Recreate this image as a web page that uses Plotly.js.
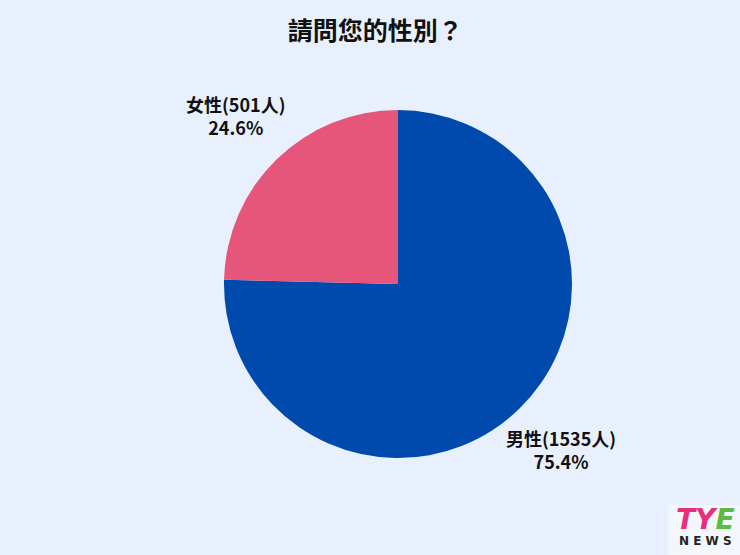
<!DOCTYPE html>
<html><head><meta charset="utf-8">
<script src="https://cdn.plot.ly/plotly-3.0.1.min.js"></script>
<style>html,body{margin:0;padding:0;background:#E8F0FD;}</style>
</head><body>
<div id="chart" style="width:740px;height:555px;"></div>
<script>
const categories = ['男性', '女性'];
const counts = [1535, 501];
const percents = ['75.4%', '24.6%'];
const colors = ['#004AAD', '#E6567A'];
const labelsText = categories.map((c, i) => '<b>' + c + '(' + counts[i] + '人)<br>' + percents[i] + '</b>');
const labelPos = [[0.968, 0.025], [0.034, 0.985]];

const font = "'Noto Sans CJK TC', 'Noto Sans', sans-serif";
const ann = labelsText.map((t, i) => ({
  xref: 'paper', yref: 'paper', x: labelPos[i][0], y: labelPos[i][1],
  xanchor: 'center', yanchor: 'middle', showarrow: false, text: t,
  font: {family: font, size: 18, color: '#111111'}
}));
ann.push(
  {xref: 'paper', yref: 'paper', x: 1.385, y: -0.178, xanchor: 'center', yanchor: 'middle', showarrow: false,
   text: '<b><i><span style="color:#E8307A">TY</span><span style="color:#5DBB3F">E</span></i></b>',
   font: {family: "'DejaVu Sans', sans-serif", size: 28}},
  {xref: 'paper', yref: 'paper', x: 1.385, y: -0.238, xanchor: 'center', yanchor: 'middle', showarrow: false,
   text: '<b>N E W S</b>', font: {family: "'DejaVu Sans', sans-serif", size: 12, color: '#222222'}}
);

Plotly.newPlot('chart', [{
  type: 'pie',
  labels: categories,
  values: counts,
  textinfo: 'none',
  sort: false,
  direction: 'clockwise',
  rotation: 0,
  marker: {colors: colors, line: {width: 0}},
  showlegend: false,
  hoverinfo: 'none'
}], {
  width: 740, height: 555,
  paper_bgcolor: '#E8F0FD',
  plot_bgcolor: '#E8F0FD',
  margin: {l: 224, r: 168, t: 110, b: 97},
  title: {text: '<b>請問您的性別？</b>', x: 0.507, xanchor: 'center', y: 0.944, yanchor: 'middle',
          font: {family: font, size: 25, color: '#111111'}},
  shapes: [
    {type: 'rect', xref: 'paper', yref: 'paper', x0: 1.277, x1: 1.49, y0: -0.28, y1: -0.135,
     fillcolor: '#F3F6FB', line: {width: 0}, layer: 'below'}
  ],
  annotations: ann
}, {displayModeBar: false});
</script>
</body></html>
